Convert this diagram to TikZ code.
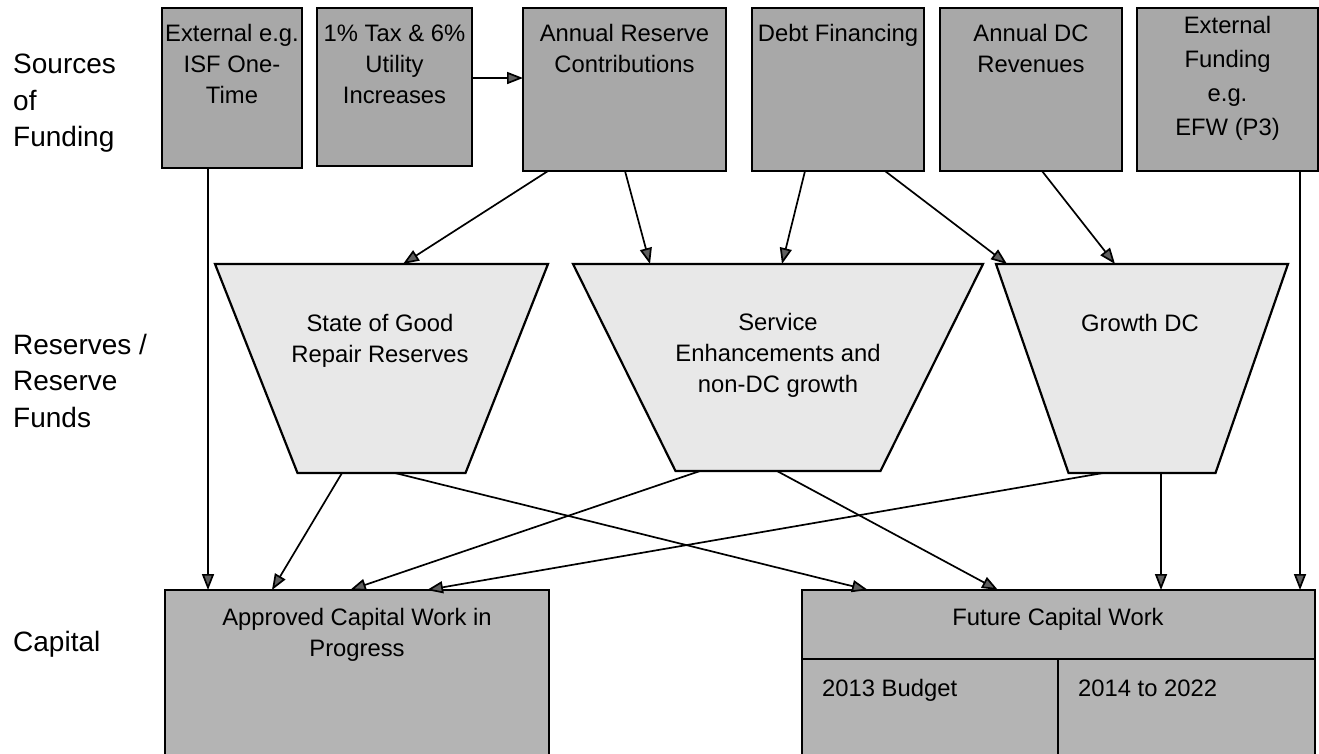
\documentclass[tikz,border=0pt]{standalone}
\usepackage{fontspec}
\setmainfont{Liberation Sans}
\usetikzlibrary{arrows.meta,calc}
\definecolor{srcgray}{RGB}{168,168,168}
\definecolor{resgray}{RGB}{232,232,232}
\definecolor{capgray}{RGB}{180,180,180}
\definecolor{tipgray}{RGB}{95,95,95}
\begin{document}
\begin{tikzpicture}[x=1pt,y=-1pt,
  srcbox/.style={draw=black, line width=2.2pt, fill=srcgray, rectangle, anchor=north west, inner sep=0pt, outer sep=0pt},
  capbox/.style={draw=black, line width=2.2pt, fill=capgray, rectangle, anchor=north west, inner sep=0pt, outer sep=0pt},
  resframe/.style={rectangle, anchor=north, inner sep=0pt, outer sep=0pt},
  resfill/.style={draw=black, line width=2.2pt, fill=resgray, line join=miter},
  txt/.style={align=center, inner sep=0pt, font=\fontsize{23.8}{31}\selectfont},
  lbl/.style={align=left, inner sep=0pt, font=\fontsize{28}{36.5}\selectfont},
  arr/.style={draw=black, line width=1.7pt, -{Triangle[length=16pt,width=12pt,fill=tipgray]}}]
\useasboundingbox (0,0) rectangle (1319,753);
\clip (0,0) rectangle (1319,753);
\fill[white] (0,0) rectangle (1319,753);

% side labels
\node[lbl, anchor=north west] (lsrc) at (13,54) {Sources\\of\\Funding};
\node[lbl, anchor=north west] (lres) at (13,334) {Reserves /\\Reserve\\Funds};
\node[lbl, anchor=base west] (lcap) at (13,651) {Capital};

% sources of funding
\node[srcbox, minimum width=140pt, minimum height=160pt] (s1) at (162,8) {};
\node[srcbox, minimum width=155pt, minimum height=158pt] (s2) at (317,8) {};
\node[srcbox, minimum width=203pt, minimum height=163pt] (s3) at (523,8) {};
\node[srcbox, minimum width=172pt, minimum height=163pt] (s4) at (752,8) {};
\node[srcbox, minimum width=182pt, minimum height=163pt] (s5) at (940,8) {};
\node[srcbox, minimum width=181pt, minimum height=163pt] (s6) at (1137,8) {};
\node[txt, anchor=north] (s1t) at (232,24.5) {External e.g.\\ISF One-\\Time};
\node[txt, anchor=north] (s2t) at (394.5,24.5) {1\% Tax \& 6\%\\Utility\\Increases};
\node[txt, anchor=north] (s3t) at (624.5,24.5) {Annual Reserve\\Contributions};
\node[txt, anchor=north] (s4t) at (838,24.5) {Debt Financing};
\node[txt, anchor=north] (s5t) at (1031,24.5) {Annual DC\\Revenues};
\node[txt, anchor=north, font=\fontsize{23.8}{34}\selectfont] (s6t) at (1227.5,16.5) {External\\Funding\\e.g.\\EFW (P3)};

% reserves (trapezoids)
\node[resframe, minimum width=333pt, minimum height=209pt] (t1) at (381.5,264) {};
\node[resframe, minimum width=410pt, minimum height=207pt] (t2) at (778,264) {};
\node[resframe, minimum width=292pt, minimum height=209pt] (t3) at (1142,264) {};
\draw[resfill] (t1.north west) -- (t1.north east) -- ([xshift=-82.5pt]t1.south east) -- ([xshift=82.5pt]t1.south west) -- cycle;
\draw[resfill] (t2.north west) -- (t2.north east) -- ([xshift=-102.5pt]t2.south east) -- ([xshift=102.5pt]t2.south west) -- cycle;
\draw[resfill] (t3.north west) -- (t3.north east) -- ([xshift=-72.5pt]t3.south east) -- ([xshift=72.5pt]t3.south west) -- cycle;
\node[txt, anchor=north] (t1t) at (380,314) {State of Good\\Repair Reserves};
\node[txt, anchor=north] (t2t) at (778,313) {Service\\Enhancements and\\non-DC growth};
\node[txt, anchor=north] (t3t) at (1140,314) {Growth DC};

% capital
\node[capbox, minimum width=384pt, minimum height=200pt] (cl) at (165,590) {};
\node[capbox, minimum width=513pt, minimum height=200pt] (cr) at (802,590) {};
\coordinate (crdl) at (802,659);
\coordinate (crdr) at (1315,659);
\coordinate (crdm) at (1058,659);
\draw[line width=1.8pt] (crdl) -- (crdr);
\draw[line width=1.8pt] (crdm) -- (crdm |- cr.south);
\node[txt, anchor=north] (clt) at (357,608) {Approved Capital Work in\\Progress};
\node[txt, anchor=north] (crt) at (1058,608) {Future Capital Work};
\node[txt, anchor=base west] (cra) at (822,696) {2013 Budget};
\node[txt, anchor=base west] (crb) at (1078,696) {2014 to 2022};

% connectors
\draw[arr] (s1.south -| 208,0) -- (cl.north -| 208,0);
\draw[arr] (s2.east |- 0,78) -- (s3.west |- 0,78);
\draw[arr] (s3.south -| 548,0) -- (t1.north -| 403,0);
\draw[arr] (s3.south -| 625,0) -- (t2.north -| 650,0);
\draw[arr] (s4.south -| 805,0) -- (t2.north -| 782,0);
\draw[arr] (s4.south -| 885,0) -- (t3.north -| 1007,0);
\draw[arr] (s5.south -| 1042,0) -- (t3.north -| 1115,0);
\draw[arr] (s6.south -| 1300,0) -- (cr.north -| 1300,0);
\draw[arr] (t1.south -| 342,0) -- (cl.north -| 272,0);
\draw[arr] (t1.south -| 395,0) -- (cr.north -| 868,0);
\draw[arr] (t2.south -| 700,0) -- (cl.north -| 350,0);
\draw[arr] (t2.south -| 777,0) -- (cr.north -| 998,0);
\draw[arr] (t3.south -| 1103,0) -- (cl.north -| 427,0);
\draw[arr] (t3.south -| 1161,0) -- (cr.north -| 1161,0);
\end{tikzpicture}
\end{document}
